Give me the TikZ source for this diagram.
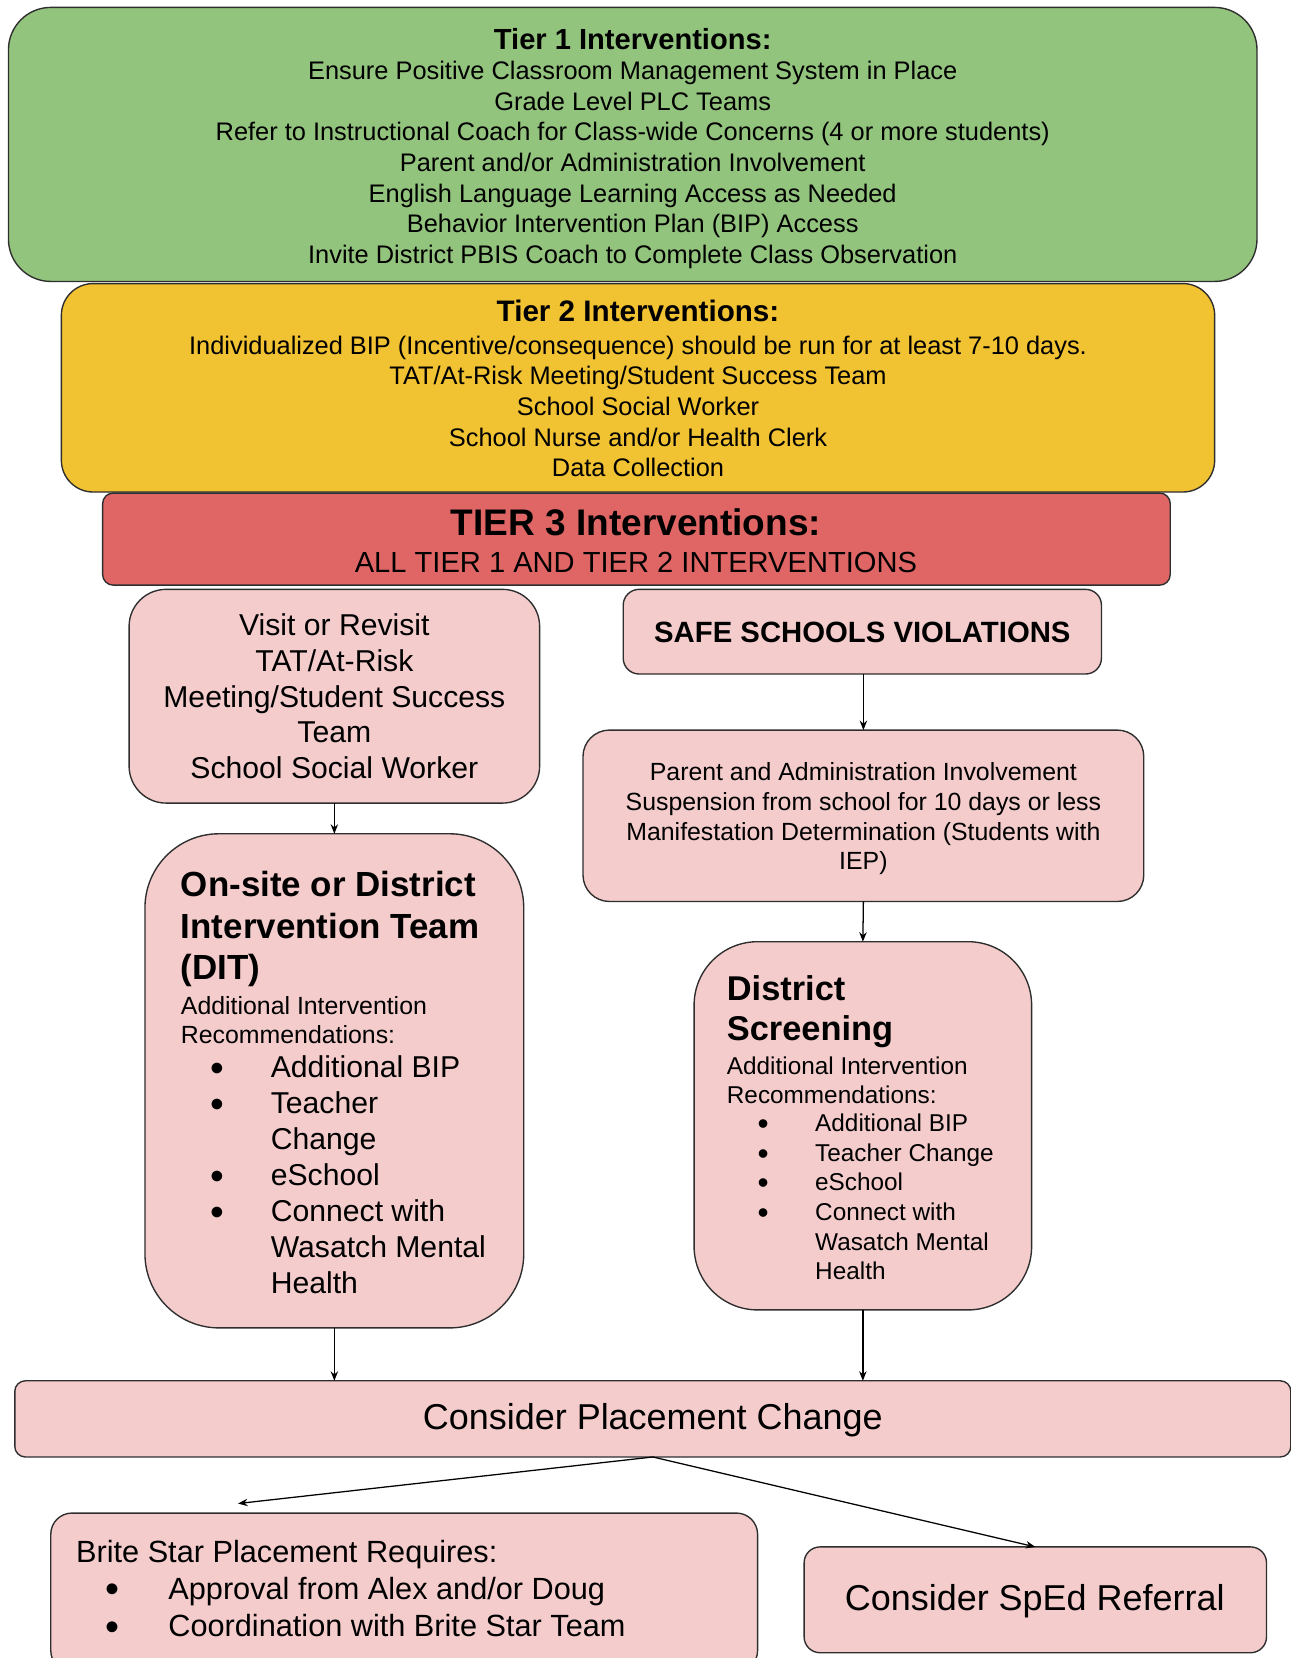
\documentclass[tikz,border=0pt]{standalone}
\usepackage{fontspec}
\usepackage{graphicx}
\setmainfont{Liberation Sans}
\usetikzlibrary{arrows.meta}
\definecolor{tgreen}{HTML}{93C47D}
\definecolor{tyellow}{HTML}{F1C232}
\definecolor{tred}{HTML}{E06666}
\definecolor{tpink}{HTML}{F4CCCC}
\definecolor{edgecol}{HTML}{2E2E2E}
\newcommand{\setfs}[2]{\fontsize{#1pt}{#2pt}\selectfont}
\newcommand{\bul}{\raisebox{-0.12em}{\scalebox{1.3}{•}}}
\begin{document}
\begin{tikzpicture}[x=1pt,y=-1pt,
  box/.style={draw=edgecol,line width=1.3pt,inner sep=0pt,outer sep=0pt},
  txt/.style={inner sep=0pt,outer sep=0pt,text=black,align=center},
  ltxt/.style={inner sep=0pt,outer sep=0pt,text=black,align=left,anchor=west},
  arr/.style={draw=black,line width=1.2pt,-{Stealth[length=9pt,width=7pt]}}]
\useasboundingbox (0,0) rectangle (1220,1567);

% Tier 1
\node[box,fill=tgreen,rounded corners=40pt,minimum width=1180pt,minimum height=259pt] (t1) at (598,136.5) {};
\node[txt,font=\bfseries\setfs{27.5}{33}] (t1h) at (598,37) {Tier 1 Interventions:};
\node[txt,font=\setfs{24}{29}] (t1b) at (598,156) {Ensure Positive Classroom Management System in Place\\Grade Level PLC Teams\\Refer to Instructional Coach for Class-wide Concerns (4 or more students)\\Parent and/or Administration Involvement\\English Language Learning Access as Needed\\Behavior Intervention Plan (BIP) Access\\Invite District PBIS Coach to Complete Class Observation};

% Tier 2
\node[box,fill=tyellow,rounded corners=30pt,minimum width=1090pt,minimum height=197pt] (t2) at (603,366.5) {};
\node[txt,font=\bfseries\setfs{28}{33}] (t2h) at (603,294) {Tier 2 Interventions:};
\node[txt,font=\setfs{24}{29}] (t2b) at (603,384) {Individualized BIP (Incentive/consequence) should be run for at least 7-10 days.\\TAT/At-Risk Meeting/Student Success Team\\School Social Worker\\School Nurse and/or Health Clerk\\Data Collection};

% Tier 3
\node[box,fill=tred,rounded corners=10pt,minimum width=1009pt,minimum height=87pt] (t3) at (601.5,509.5) {};
\node[txt,font=\bfseries\setfs{35}{40}] (t3h) at (601,494) {TIER 3 Interventions:};
\node[txt,font=\setfs{27.5}{32}] (t3b) at (601,532) {ALL TIER 1 AND TIER 2 INTERVENTIONS};

% Visit
\node[box,fill=tpink,rounded corners=35pt,minimum width=388pt,minimum height=202pt] (visit) at (316,658) {};
\node[txt,font=\setfs{28.5}{34}] (visitt) at (316,658) {Visit or Revisit\\TAT/At-Risk\\Meeting/Student Success\\Team\\School Social Worker};

% DIT
\node[box,fill=tpink,rounded corners=70pt,minimum width=358pt,minimum height=467pt] (dit) at (316,1021.5) {};
\node[ltxt,font=\bfseries\setfs{33}{39}] (dith) at (171,878) {On-site or District\\Intervention Team\\(DIT)};
\node[ltxt,font=\setfs{23.5}{28}] (dits) at (171,964) {Additional Intervention\\Recommendations:};
\node[ltxt,font=\setfs{28.5}{34}] (ditl) at (199,1114) {\begin{tabular}{@{}l@{\hspace{44pt}}l@{}}\bul&Additional BIP\\\bul&Teacher\\&Change\\\bul&eSchool\\\bul&Connect with\\&Wasatch Mental\\&Health\end{tabular}};

% Safe schools
\node[box,fill=tpink,rounded corners=15pt,minimum width=452pt,minimum height=80pt] (safe) at (815,597) {};
\node[txt,font=\bfseries\setfs{27.7}{32}] (safet) at (815,598) {SAFE SCHOOLS VIOLATIONS};

% Parent
\node[box,fill=tpink,rounded corners=25pt,minimum width=530pt,minimum height=162pt] (parent) at (816,771) {};
\node[txt,font=\setfs{23.5}{28}] (parentt) at (816,774) {Parent and Administration Involvement\\Suspension from school for 10 days or less\\Manifestation Determination (Students with\\IEP)};

% District screening
\node[box,fill=tpink,rounded corners=60pt,minimum width=319pt,minimum height=348pt] (district) at (815.5,1064) {};
\node[ltxt,font=\bfseries\setfs{32.5}{38}] (disth) at (687,956) {District\\Screening};
\node[ltxt,font=\setfs{23}{28}] (dists) at (687,1021) {Additional Intervention\\Recommendations:};
\node[ltxt,font=\setfs{23}{28}] (distl) at (716,1134) {\begin{tabular}{@{}l@{\hspace{44pt}}l@{}}\bul&Additional BIP\\\bul&Teacher Change\\\bul&eSchool\\\bul&Connect with\\&Wasatch Mental\\&Health\end{tabular}};

% Consider placement
\node[box,fill=tpink,rounded corners=10pt,minimum width=1206pt,minimum height=72pt] (consider) at (617,1341) {};
\node[txt,font=\setfs{34}{40}] (considert) at (617,1342) {Consider Placement Change};

% Brite star
\node[box,fill=tpink,rounded corners=20pt,minimum width=668pt,minimum height=150pt] (brite) at (382,1505) {};
\node[ltxt,font=\setfs{29}{35}] (britet) at (72,1504.5) {\begin{tabular}{@{\hspace{28pt}}l@{\hspace{46pt}}l@{}}\multicolumn{2}{@{}l@{}}{Brite Star Placement Requires:}\\\bul&Approval from Alex and/or Doug\\\bul&Coordination with Brite Star Team\end{tabular}};

% SpEd
\node[box,fill=tpink,rounded corners=15pt,minimum width=437pt,minimum height=100pt] (sped) at (978.5,1512) {};
\node[txt,font=\setfs{34}{40}] (spedt) at (978,1513) {Consider SpEd Referral};

% Connectors
\draw[arr] (visit) -- (dit);
\draw[arr] (safe.south -| parent.north) -- (parent.north);
\draw[arr] (parent.south) -- (district.north);
\draw[arr] (dit.south) -- (dit.south |- consider.north);
\draw[arr] (district.south) -- (district.south |- consider.north);
\coordinate (britetip) at (225,1421);
\draw[arr] (consider.south) -- (britetip);
\draw[arr] (consider.south) -- (sped.north);
\end{tikzpicture}
\end{document}
